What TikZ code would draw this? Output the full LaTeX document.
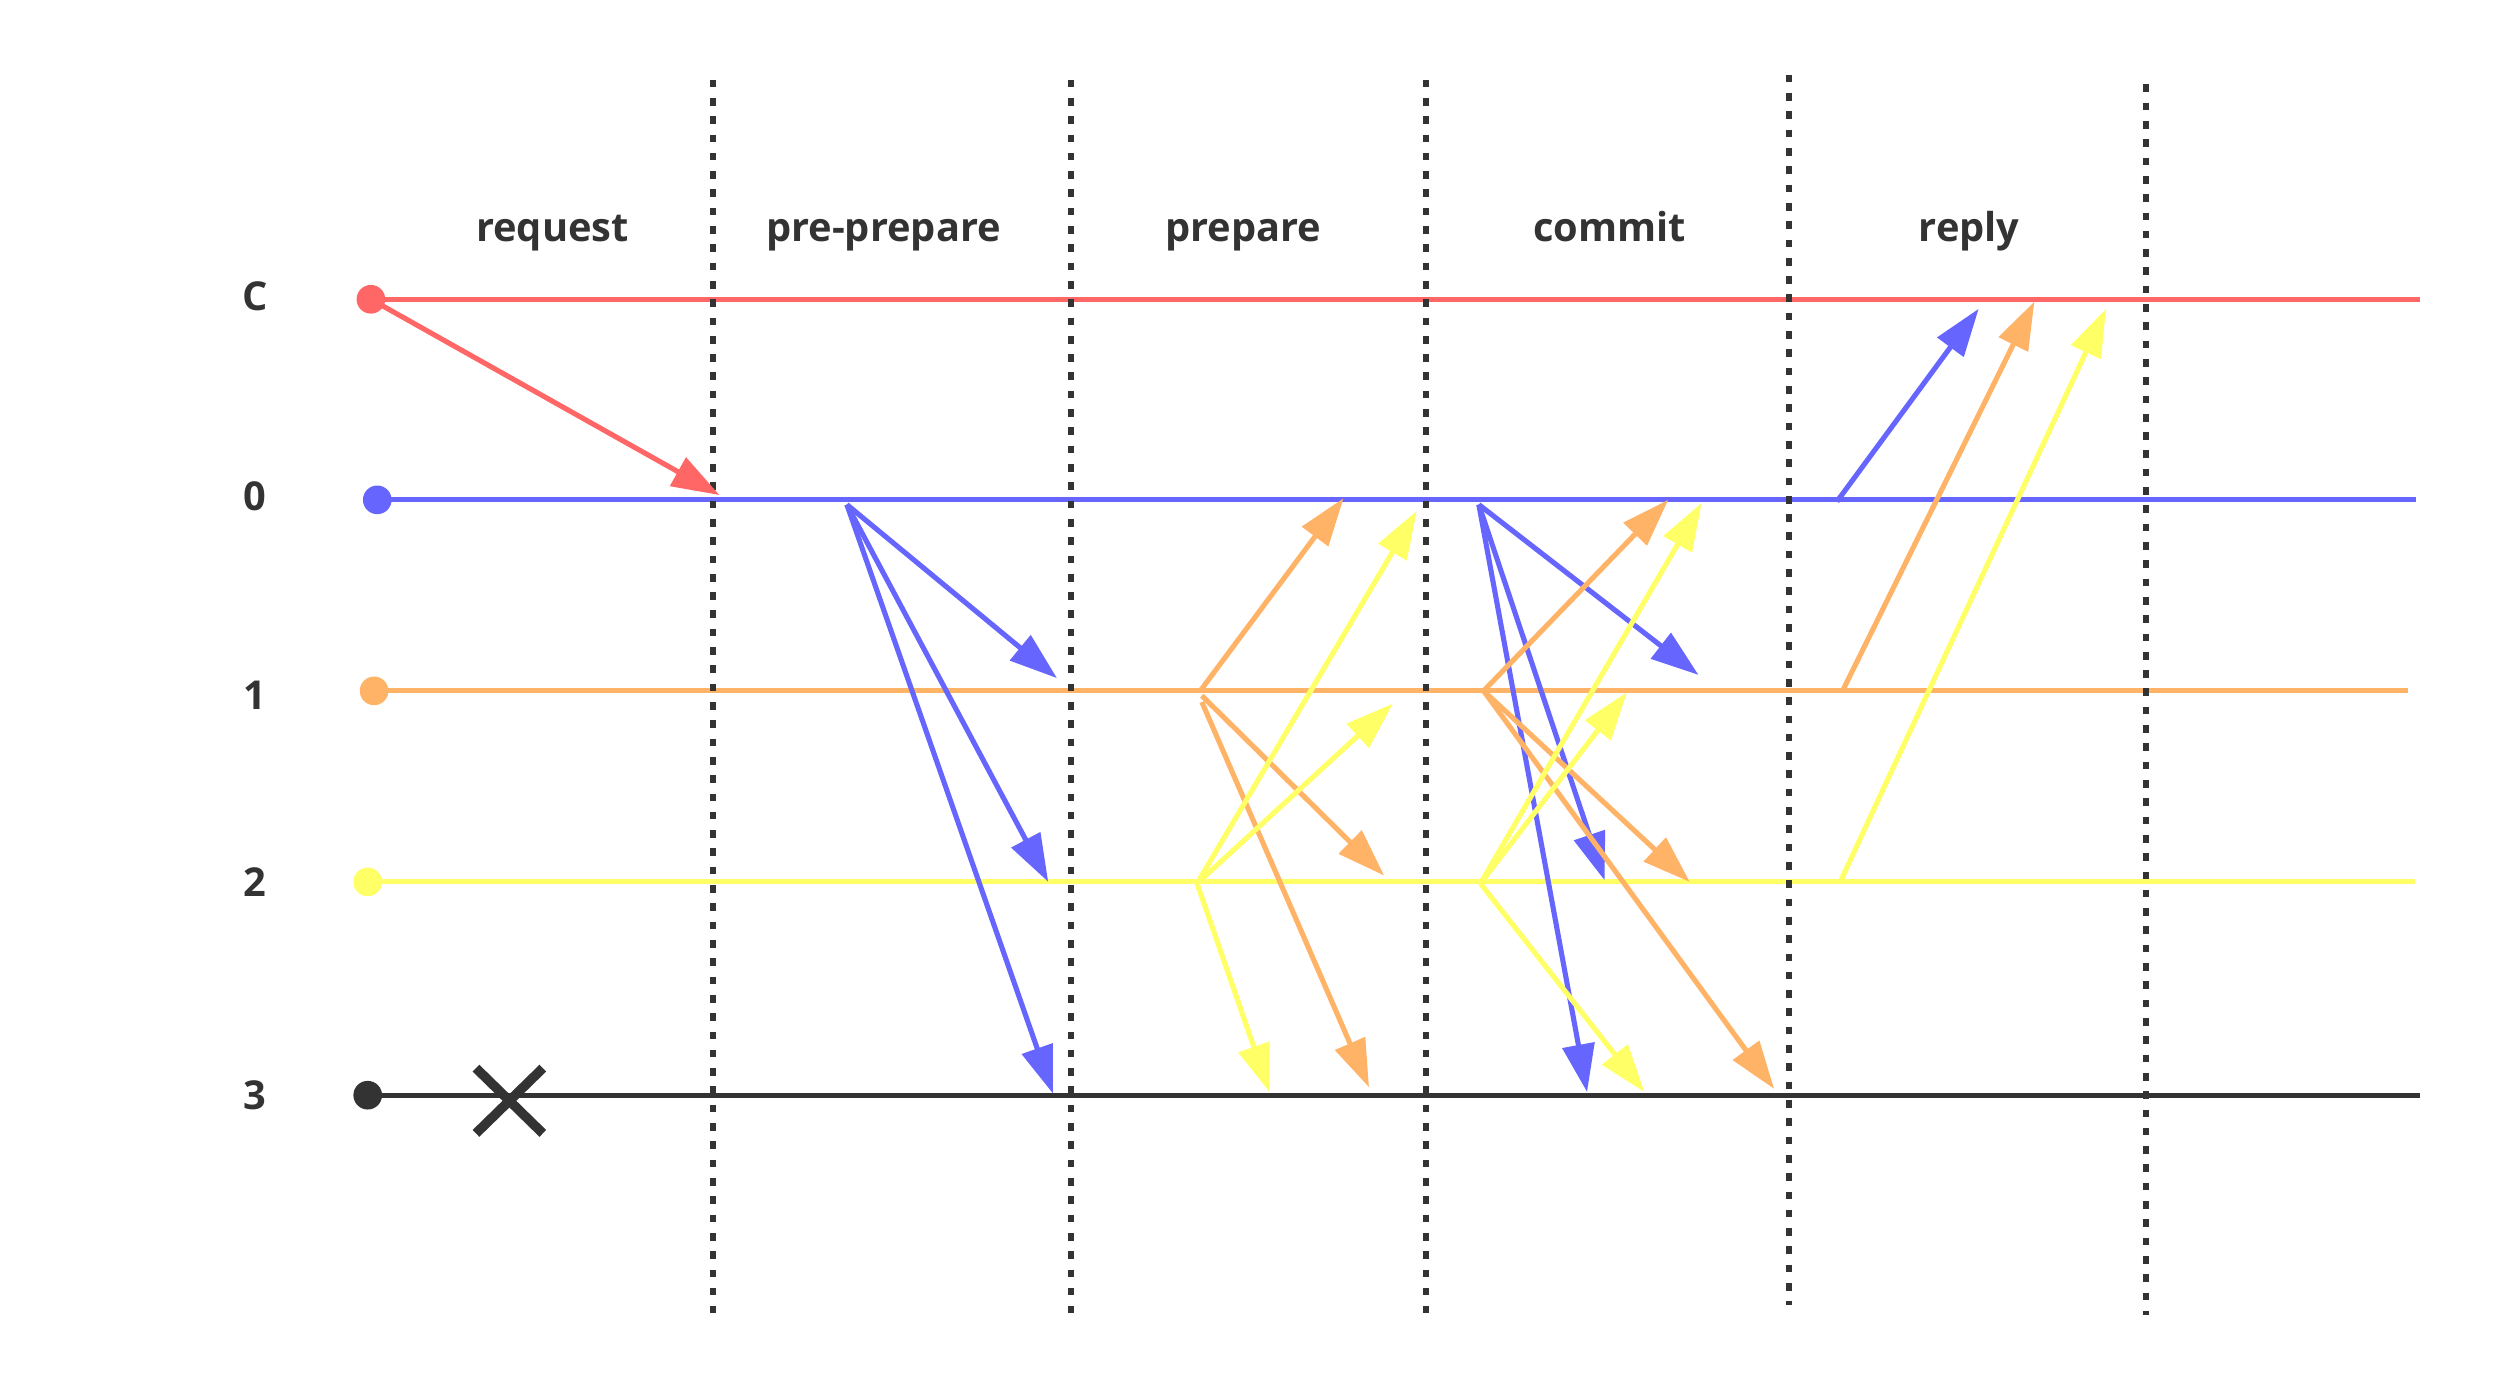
\documentclass[tikz,border=0pt]{standalone}
\usepackage{fontspec}
\setmainfont{Open Sans}
\usetikzlibrary{arrows.meta}
\definecolor{cr}{HTML}{FF6666}
\definecolor{cb}{HTML}{6666FF}
\definecolor{co}{HTML}{FFB366}
\definecolor{cy}{HTML}{FFFF66}
\definecolor{ck}{HTML}{333333}
\tikzset{
  tl/.style={line width=3.2pt},
  dotnode/.style={circle, inner sep=0pt, minimum size=18pt},
  msg/.style={line width=3.2pt, -{Triangle[length=30pt,width=20pt]}},
  sep/.style={line width=3.9pt, ck, dash pattern=on 4.8pt off 6.7pt},
  lab/.style={font=\fontsize{25}{30}\selectfont\bfseries, text=ck},
  ttl/.style={lab, anchor=base},
}
\begin{document}
\begin{tikzpicture}[x=1pt,y=-1pt]
\useasboundingbox[fill=white] (0,0) rectangle (1568,878);
% phase titles
\node[ttl] (tReq) at (347,152) {request};
\node[ttl] (tPre) at (555,152) {pre-prepare};
\node[ttl] (tPrep) at (781,152) {prepare};
\node[ttl] (tCom) at (1011,152) {commit};
\node[ttl] (tRep) at (1237,152) {reply};
% row labels
\node[lab] (lC) at (160,186) {C};
\node[lab] (l0) at (160,312) {0};
\node[lab] (l1) at (160,437) {1};
\node[lab] (l2) at (160,554) {2};
\node[lab] (l3) at (160,688) {3};
% timeline ends
\coordinate (eC) at (1520,188);
\coordinate (e0) at (1518,314);
\coordinate (e1) at (1513,434);
\coordinate (e2) at (1517,554);
\coordinate (e3) at (1520,688);
% timelines
\draw[tl, cr] (233,188) -- (eC);
\draw[tl, cb] (237,314) -- (e0);
\draw[tl, co] (235,434) -- (e1);
\draw[tl, cy] (231,554) -- (e2);
\draw[tl, ck] (231,688) -- (e3);
% dots
\node[dotnode, fill=cr] (dC) at (233,188) {};
\node[dotnode, fill=cb] (d0) at (237,314) {};
\node[dotnode, fill=co] (d1) at (235,434) {};
\node[dotnode, fill=cy] (d2) at (231,554) {};
\node[dotnode, fill=ck] (d3) at (231,688) {};
% crash mark
\coordinate (x1) at (299,671);
\coordinate (x2) at (341,712);
\coordinate (x3) at (299,712);
\coordinate (x4) at (341,671);
\draw[line width=6pt, ck] (x1) -- (x2);
\draw[line width=6pt, ck] (x3) -- (x4);
% phase separators
\coordinate (v1t) at (448,50);   \coordinate (v1b) at (448,825);
\coordinate (v2t) at (673,50);   \coordinate (v2b) at (673,825);
\coordinate (v3t) at (896,50);   \coordinate (v3b) at (896,825);
\coordinate (v4t) at (1124,47);  \coordinate (v4b) at (1124,820);
\coordinate (v5t) at (1348,53);  \coordinate (v5b) at (1348,826);
\draw[sep] (v1t) -- (v1b);
\draw[sep] (v2t) -- (v2b);
\draw[sep] (v3t) -- (v3b);
\draw[sep] (v4t) -- (v4b);
\draw[sep] (v5t) -- (v5b);
% request
\coordinate (rq) at (452,311);
\draw[msg, cr] (dC.center) -- (rq);
% pre-prepare
\coordinate (pp0) at (532,317);
\coordinate (pp1) at (664,426);
\coordinate (pp2) at (658.5,554);
\coordinate (pp3) at (661.5,687);
\draw[msg, cb] (pp0) -- (pp1);
\draw[msg, cb] (pp0) -- (pp2);
\draw[msg, cb] (pp0) -- (pp3);
% prepare from 1
\coordinate (po1) at (754,434);
\coordinate (po1b) at (755,437);
\coordinate (po1c) at (755,441);
\coordinate (po0) at (844,313);
\coordinate (po2) at (869.5,550);
\coordinate (po3) at (860,683);
\draw[msg, co] (po1) -- (po0);
\draw[msg, co] (po1b) -- (po2);
\draw[msg, co] (po1c) -- (po3);
% prepare from 2
\coordinate (py2) at (752,555);
\coordinate (py0) at (890,321);
\coordinate (py1) at (875,442);
\coordinate (py3) at (797.5,686);
\draw[msg, cy] (py2) -- (py0);
\draw[msg, cy] (py2) -- (py1);
\draw[msg, cy] (py2) -- (py3);
% commit from 0
\coordinate (cb0) at (929,317);
\coordinate (cb1) at (1067,424);
\coordinate (cb2) at (1008,553);
\coordinate (cb3) at (997,686);
\draw[msg, cb] (cb0) -- (cb1);
\draw[msg, cb] (cb0) -- (cb2);
\draw[msg, cb] (cb0) -- (cb3);
% commit from 1
\coordinate (co1) at (932,434);
\coordinate (co0) at (1048,314);
\coordinate (co2) at (1061.5,554);
\coordinate (co3) at (1114.5,684);
\draw[msg, co] (co1) -- (co0);
\draw[msg, co] (co1) -- (co2);
\draw[msg, co] (co1) -- (co3);
% commit from 2
\coordinate (cy2) at (930,555);
\coordinate (cy0) at (1069,316);
\coordinate (cy1) at (1022,435);
\coordinate (cy3) at (1033,686);
\draw[msg, cy] (cy2) -- (cy0);
\draw[msg, cy] (cy2) -- (cy1);
\draw[msg, cy] (cy2) -- (cy3);
% reply
\coordinate (rb0) at (1154,315);
\coordinate (rbC) at (1243,194);
\coordinate (ro1) at (1157.5,434);
\coordinate (roC) at (1278,189.5);
\coordinate (ry2) at (1156,554);
\coordinate (ryC) at (1323,194);
\draw[msg, cb] (rb0) -- (rbC);
\draw[msg, co] (ro1) -- (roC);
\draw[msg, cy] (ry2) -- (ryC);
\end{tikzpicture}
\end{document}
